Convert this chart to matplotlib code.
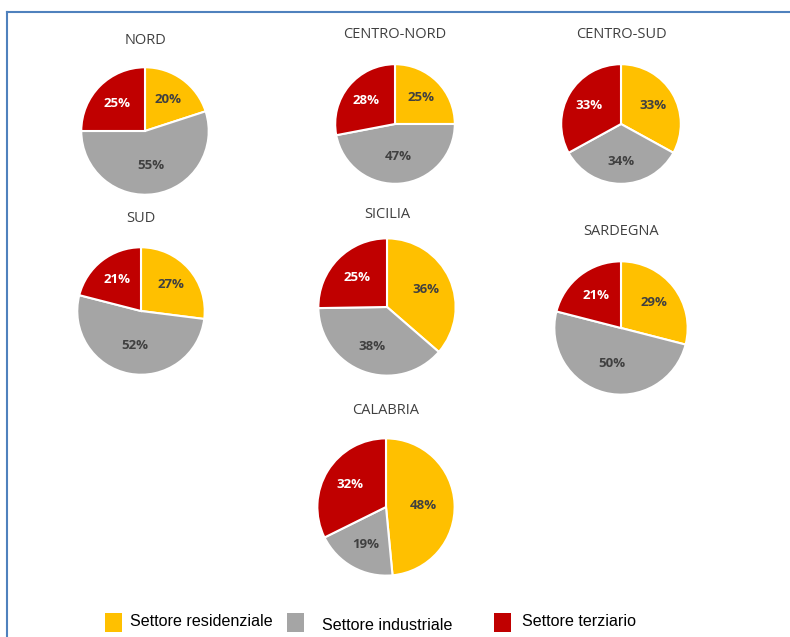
import matplotlib
matplotlib.use("Agg")
from matplotlib import pyplot as plt
from matplotlib.lines import Line2D
from matplotlib.patches import Rectangle
import numpy as np

# data
regioni = ["NORD", "CENTRO-NORD", "CENTRO-SUD", "SUD", "SICILIA", "SARDEGNA", "CALABRIA"]
residenziale = [20, 25, 33, 27, 36, 29, 48]
industriale = [55, 47, 34, 52, 38, 50, 19]
terziario = [25, 28, 33, 21, 25, 21, 32]
settori = ["Settore residenziale", "Settore industriale", "Settore terziario"]
colori = ["#FFC000", "#A5A5A5", "#C00000"]
col_testo = ["#404040", "#404040", "white"]

W, H = 790, 637
fig = plt.figure(figsize=(W/100, H/100), dpi=100)

# pixel layout: center x, center y, radius, title y
layout = [(145, 131, 65, 40), (395, 124, 61, 35), (621, 124, 61, 35),
          (141, 311, 65, 218), (387, 307, 70, 215), (621, 328, 68, 232),
          (386, 507, 70, 410)]

for i, nome in enumerate(regioni):
    cx, cy, r, ty = layout[i]
    ax = fig.add_axes([(cx-r)/W, 1-(cy+r)/H, 2*r/W, 2*r/H])
    vals = [residenziale[i], industriale[i], terziario[i]]
    ax.pie(vals, colors=colori, startangle=90, counterclock=False,
           radius=1.0, wedgeprops=dict(edgecolor="white", linewidth=1.5))
    tot = sum(vals)
    ang = 90.0
    for v, c in zip(vals, col_testo):
        mid = ang - v/tot*360/2
        ang -= v/tot*360
        d = 0.55 if v > 40 else 0.62
        x = d*np.cos(np.deg2rad(mid))
        y = d*np.sin(np.deg2rad(mid))
        ax.text(x, y, "%d%%" % v, ha="center", va="center", color=c,
                fontsize=9.5, fontweight="bold", family="Open Sans")
    ax.set_xlim(-1.02, 1.02)
    ax.set_ylim(-1.02, 1.02)
    ax.set_aspect("equal")
    fig.text(cx/W, 1-ty/H, nome, ha="center", va="center", fontsize=10.5,
             color="#404040", family="Open Sans")

# frame
fig.add_artist(Line2D([7/W, 1], [1-12/H, 1-12/H], transform=fig.transFigure, color="#4F81BD", lw=1.5))
fig.add_artist(Line2D([7/W, 7/W], [1-12/H, 0], transform=fig.transFigure, color="#4F81BD", lw=1.5))

# legend
leg_pos = [(105, 130, 622), (287, 322, 625), (494, 522, 621)]
for (sx, tx, ty), lab, c in zip(leg_pos, settori, colori):
    fig.add_artist(Rectangle((sx/W, 1-632/H), 17/W, 19/H, transform=fig.transFigure,
                             facecolor=c, edgecolor="none"))
    fig.text(tx/W, 1-ty/H, lab, ha="left", va="center", fontsize=11.6,
             family="Liberation Sans", color="black")

fig.savefig("out.png", dpi=100)
